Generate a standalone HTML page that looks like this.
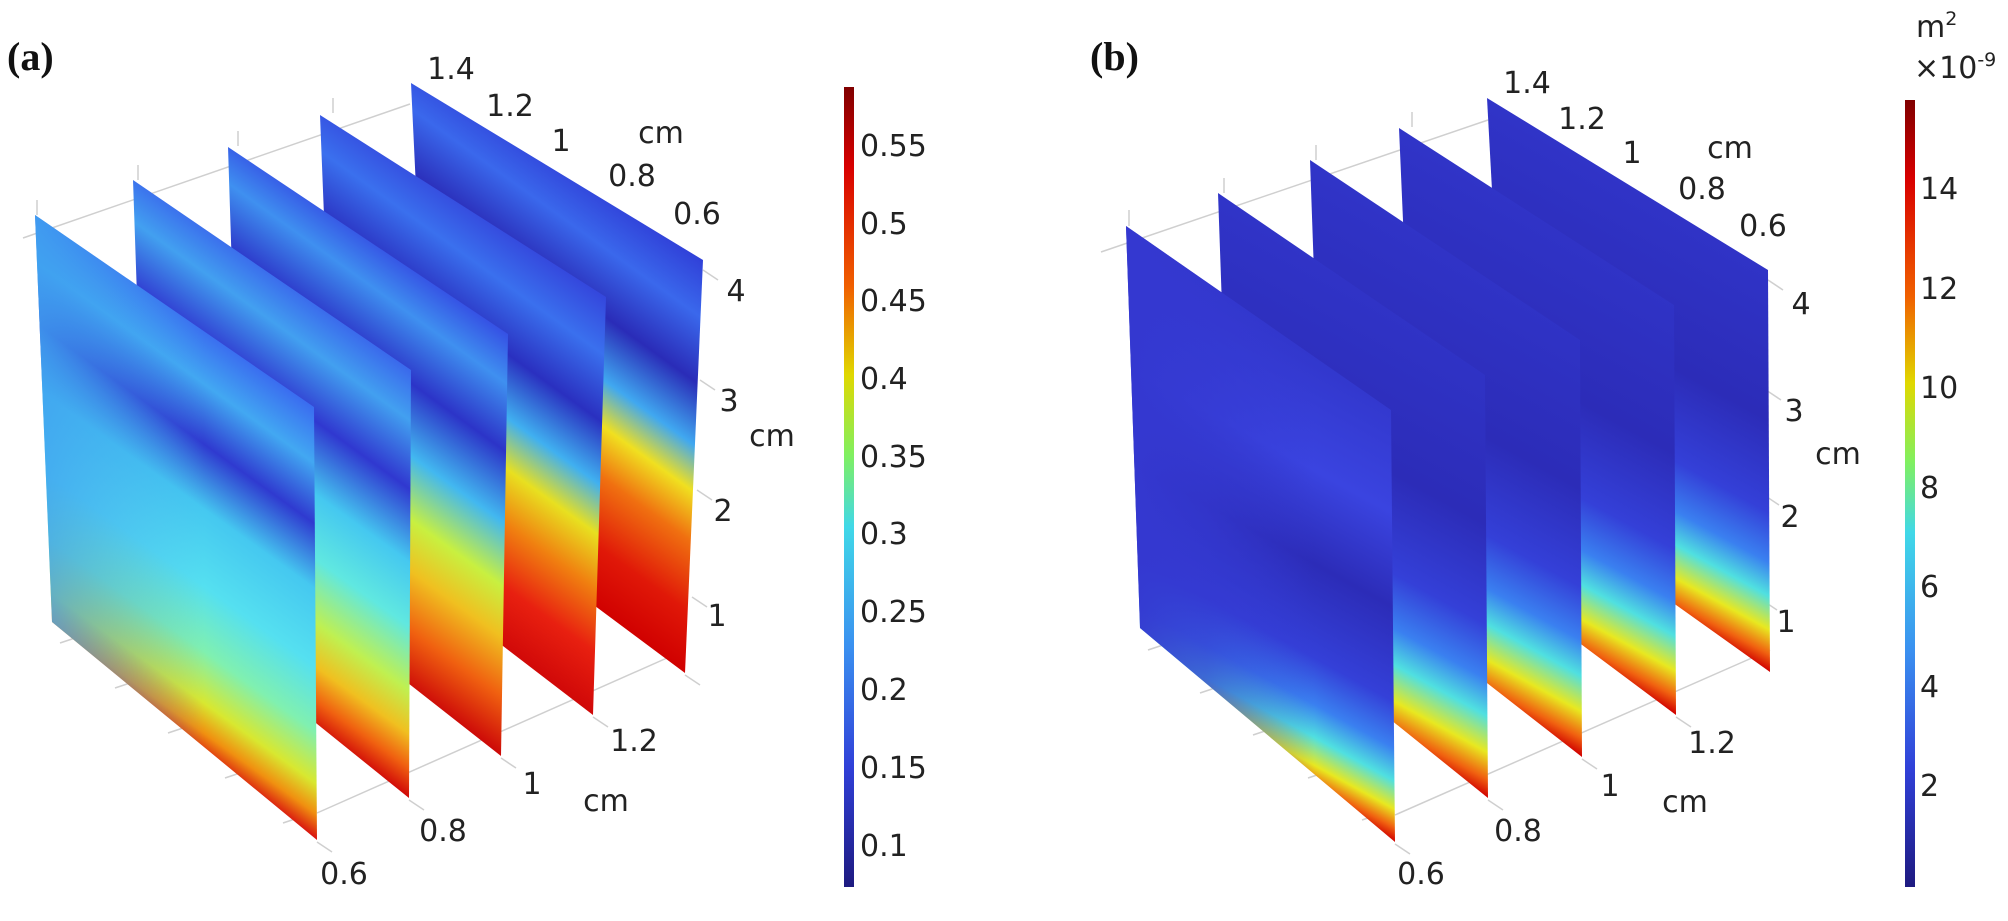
<!DOCTYPE html>
<html><head><meta charset="utf-8"><style>
html,body{margin:0;padding:0;background:#fff;}
svg{display:block;}
text{font-family:"DejaVu Sans","Liberation Sans",sans-serif;font-size:30px;fill:#222;}
.lab{font-family:"Liberation Serif",serif;font-weight:bold;font-size:40px;fill:#111;}
</style></head><body>
<svg width="2008" height="921" viewBox="0 0 2008 921" xmlns="http://www.w3.org/2000/svg">
<defs>
<linearGradient id="cb" x1="0" y1="0" x2="0" y2="1">
<stop offset="0" stop-color="#800000"/><stop offset="0.1" stop-color="#d80000"/><stop offset="0.25" stop-color="#f06000"/><stop offset="0.36" stop-color="#e0d800"/><stop offset="0.46" stop-color="#80f060"/><stop offset="0.55" stop-color="#40d8e8"/><stop offset="0.7" stop-color="#3a90f0"/><stop offset="0.85" stop-color="#3040d8"/><stop offset="1" stop-color="#1e1a80"/>
</linearGradient>
<linearGradient id="a0" gradientUnits="userSpaceOnUse" x1="-85.8" y1="119.4" x2="-290.2" y2="403.6">
<stop offset="0" stop-color="#3a6cf0"/><stop offset="0.13" stop-color="#42a8f2"/><stop offset="0.27" stop-color="#2f3ad0"/><stop offset="0.42" stop-color="#45c8f0"/><stop offset="0.6" stop-color="#55e0f0"/><stop offset="0.75" stop-color="#80f0b0"/><stop offset="0.87" stop-color="#d8e830"/><stop offset="0.94" stop-color="#f09010"/><stop offset="1" stop-color="#d81010"/>
</linearGradient>
<linearGradient id="a1" gradientUnits="userSpaceOnUse" x1="-35" y1="48.7" x2="-238.9" y2="332.1">
<stop offset="0" stop-color="#3a68ec"/><stop offset="0.12" stop-color="#42a0f0"/><stop offset="0.28" stop-color="#3038d0"/><stop offset="0.45" stop-color="#45c8f0"/><stop offset="0.6" stop-color="#60e8e0"/><stop offset="0.75" stop-color="#c0f050"/><stop offset="0.85" stop-color="#f0c020"/><stop offset="0.93" stop-color="#f06010"/><stop offset="1" stop-color="#d00808"/>
</linearGradient>
<linearGradient id="a2" gradientUnits="userSpaceOnUse" x1="15.2" y1="-21.1" x2="-187.5" y2="260.7">
<stop offset="0" stop-color="#3550e4"/><stop offset="0.12" stop-color="#3f90f0"/><stop offset="0.28" stop-color="#2c34c8"/><stop offset="0.45" stop-color="#42b8f0"/><stop offset="0.6" stop-color="#c8f040"/><stop offset="0.72" stop-color="#f0c020"/><stop offset="0.86" stop-color="#f06010"/><stop offset="1" stop-color="#cc0808"/>
</linearGradient>
<linearGradient id="a3" gradientUnits="userSpaceOnUse" x1="66" y1="-91.8" x2="-136.7" y2="190">
<stop offset="0" stop-color="#3446dc"/><stop offset="0.14" stop-color="#3a70ee"/><stop offset="0.3" stop-color="#2a30c0"/><stop offset="0.45" stop-color="#40b0f0"/><stop offset="0.57" stop-color="#e8e020"/><stop offset="0.7" stop-color="#f08010"/><stop offset="0.85" stop-color="#e82010"/><stop offset="1" stop-color="#d00808"/>
</linearGradient>
<linearGradient id="a4" gradientUnits="userSpaceOnUse" x1="116.8" y1="-162.4" x2="-85.8" y2="119.4">
<stop offset="0" stop-color="#3040d8"/><stop offset="0.14" stop-color="#3a68ec"/><stop offset="0.3" stop-color="#2a2cb8"/><stop offset="0.45" stop-color="#40a8f0"/><stop offset="0.56" stop-color="#f0e020"/><stop offset="0.68" stop-color="#f07010"/><stop offset="0.85" stop-color="#e01808"/><stop offset="1" stop-color="#d00000"/>
</linearGradient>
<linearGradient id="ovA" x1="0" y1="0" x2="1" y2="0">
<stop offset="0" stop-color="#40a0f0" stop-opacity="0.85"/><stop offset="0.6" stop-color="#40a0f0" stop-opacity="0"/>
</linearGradient>
<linearGradient id="ovB" x1="0" y1="0" x2="1" y2="0">
<stop offset="0" stop-color="#3438d0" stop-opacity="1"/><stop offset="0.3" stop-color="#3438d0" stop-opacity="0.7"/><stop offset="0.7" stop-color="#3438d0" stop-opacity="0"/>
</linearGradient>
<linearGradient id="b0" gradientUnits="userSpaceOnUse" x1="164.2" y1="-299.9" x2="-33.1" y2="60.5">
<stop offset="0" stop-color="#3034c8"/><stop offset="0.3" stop-color="#3a44e0"/><stop offset="0.5" stop-color="#2c2cb8"/><stop offset="0.7" stop-color="#3440d8"/><stop offset="0.8" stop-color="#3a80f0"/><stop offset="0.87" stop-color="#50e0e0"/><stop offset="0.93" stop-color="#e8e820"/><stop offset="0.97" stop-color="#f06010"/><stop offset="1" stop-color="#d00000"/>
</linearGradient>
<linearGradient id="bx" x1="0" y1="0" x2="0" y2="1">
<stop offset="0" stop-color="#3034c8"/><stop offset="0.4" stop-color="#2c2cb8"/><stop offset="0.62" stop-color="#3440d8"/><stop offset="0.74" stop-color="#3a80f0"/><stop offset="0.82" stop-color="#50e0e0"/><stop offset="0.9" stop-color="#e8e820"/><stop offset="0.96" stop-color="#f06010"/><stop offset="1" stop-color="#d00000"/>
</linearGradient>
<linearGradient id="b1" href="#bx" gradientUnits="userSpaceOnUse" x1="198.7" y1="-363.1" x2="6.7" y2="-12.3"/>
<linearGradient id="b2" href="#bx" gradientUnits="userSpaceOnUse" x1="233.8" y1="-427.1" x2="46.1" y2="-84.2"/>
<linearGradient id="b3" href="#bx" gradientUnits="userSpaceOnUse" x1="268.3" y1="-490.2" x2="85.4" y2="-156.1"/>
<linearGradient id="b4" href="#bx" gradientUnits="userSpaceOnUse" x1="301.4" y1="-550.8" x2="124.8" y2="-228"/>
</defs>

<!-- Panel a grid -->
<g stroke="#cfcfcf" stroke-width="1.5" fill="none">
<line x1="23" y1="238" x2="410" y2="104"/>
<line x1="37" y1="200" x2="37" y2="215"/><line x1="138" y1="165" x2="138" y2="180"/><line x1="238" y1="131" x2="238" y2="146"/><line x1="333" y1="98" x2="333" y2="113"/>
<line x1="317" y1="813" x2="685" y2="650"/>
<line x1="317" y1="842" x2="332" y2="852"/><line x1="409" y1="800" x2="424" y2="810"/><line x1="501" y1="758" x2="516" y2="768"/><line x1="593" y1="717" x2="608" y2="727"/><line x1="685" y1="675" x2="700" y2="685"/>
<line x1="703" y1="270" x2="718" y2="280"/><line x1="700" y1="380" x2="715" y2="390"/><line x1="697" y1="490" x2="712" y2="500"/><line x1="692" y1="597" x2="707" y2="607"/>
<line x1="60" y1="643" x2="75" y2="638"/><line x1="115" y1="688" x2="130" y2="683"/><line x1="168" y1="733" x2="183" y2="728"/><line x1="225" y1="778" x2="240" y2="773"/><line x1="283" y1="823" x2="298" y2="818"/>
</g>
<polygon points="411,83 703,260 685,673 430,483" fill="url(#a4)"/>
<polygon points="320,115 606,297 593,715 336,518" fill="url(#a3)"/>
<polygon points="228,147 508,334 501,756 241,552" fill="url(#a2)"/>
<polygon points="133,180 411,370 409,798 147,587" fill="url(#a1)"/>
<polygon points="35,215 314,407 317,840 52,622" fill="url(#a0)"/>
<polygon points="35,215 314,407 317,840 52,622" fill="url(#ovA)"/>

<!-- Panel b grid -->
<g stroke="#cfcfcf" stroke-width="1.5" fill="none">
<line x1="1101" y1="252" x2="1488" y2="120"/>
<line x1="1129" y1="210" x2="1129" y2="226"/><line x1="1224" y1="178" x2="1224" y2="193"/><line x1="1316" y1="145" x2="1316" y2="160"/><line x1="1412" y1="112" x2="1412" y2="127"/>
<line x1="1395" y1="815" x2="1770" y2="650"/>
<line x1="1395" y1="844" x2="1410" y2="854"/><line x1="1488" y1="800" x2="1503" y2="810"/><line x1="1582" y1="759" x2="1597" y2="769"/><line x1="1676" y1="717" x2="1691" y2="727"/>
<line x1="1768" y1="280" x2="1783" y2="290"/><line x1="1766" y1="390" x2="1781" y2="400"/><line x1="1764" y1="495" x2="1779" y2="505"/><line x1="1762" y1="600" x2="1777" y2="610"/>
<line x1="1148" y1="650" x2="1163" y2="645"/><line x1="1200" y1="693" x2="1215" y2="688"/><line x1="1253" y1="735" x2="1268" y2="730"/><line x1="1308" y1="778" x2="1323" y2="773"/><line x1="1362" y1="820" x2="1377" y2="815"/>
</g>
<polygon points="1487,98 1768,270 1770,672 1508,485" fill="url(#b4)"/>
<polygon points="1399,128 1674,305 1676,715 1416,521" fill="url(#b3)"/>
<polygon points="1310,160 1580,340 1582,757 1324,556" fill="url(#b2)"/>
<polygon points="1218,193 1485,375 1488,798 1232,592" fill="url(#b1)"/>
<polygon points="1126,226 1391,410 1395,842 1140,628" fill="url(#b0)"/>
<polygon points="1126,226 1391,410 1395,842 1140,628" fill="url(#ovB)"/>

<!-- colorbars -->
<rect x="844" y="87" width="10" height="800" fill="url(#cb)"/>
<rect x="1905" y="100" width="10" height="787" fill="url(#cb)"/>

<!-- labels -->
<text class="lab" x="7" y="70">(a)</text>
<text class="lab" x="1090" y="70">(b)</text>

<g text-anchor="middle">
<text x="451" y="79">1.4</text><text x="510" y="116">1.2</text><text x="561" y="151">1</text><text x="661" y="143">cm</text><text x="632" y="186">0.8</text><text x="697" y="224">0.6</text>
<text x="736" y="301">4</text><text x="729" y="411">3</text><text x="772" y="446">cm</text><text x="723" y="521">2</text><text x="717" y="626">1</text>
<text x="344" y="884">0.6</text><text x="443" y="841">0.8</text><text x="532" y="794">1</text><text x="634" y="751">1.2</text><text x="606" y="811">cm</text>

<text x="1527" y="93">1.4</text><text x="1582" y="129">1.2</text><text x="1632" y="163">1</text><text x="1730" y="158">cm</text><text x="1702" y="199">0.8</text><text x="1763" y="236">0.6</text>
<text x="1801" y="314">4</text><text x="1794" y="421">3</text><text x="1838" y="464">cm</text><text x="1790" y="527">2</text><text x="1786" y="632">1</text>
<text x="1421" y="884">0.6</text><text x="1518" y="841">0.8</text><text x="1610" y="796">1</text><text x="1712" y="753">1.2</text><text x="1685" y="812">cm</text>
</g>

<g>
<text x="860" y="156">0.55</text><text x="860" y="234">0.5</text><text x="860" y="311">0.45</text><text x="860" y="389">0.4</text><text x="860" y="467">0.35</text><text x="860" y="544">0.3</text><text x="860" y="622">0.25</text><text x="860" y="700">0.2</text><text x="860" y="778">0.15</text><text x="860" y="856">0.1</text>
<text x="1920" y="199">14</text><text x="1920" y="299">12</text><text x="1920" y="398">10</text><text x="1920" y="498">8</text><text x="1920" y="597">6</text><text x="1920" y="697">4</text><text x="1920" y="796">2</text>
<text x="1916" y="37">m<tspan font-size="19" dy="-12">2</tspan></text>
<text x="1914" y="78">×10<tspan font-size="19" dy="-12">-9</tspan></text>
</g>
</svg>
</body></html>
